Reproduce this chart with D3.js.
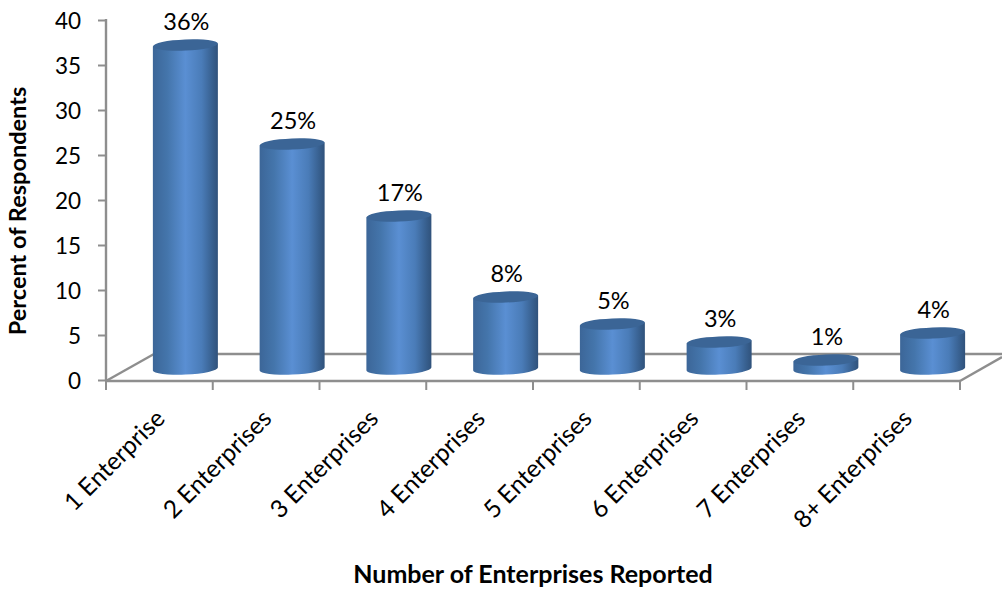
<!DOCTYPE html>
<html>
<head>
<meta charset="utf-8">
<script src="https://cdn.jsdelivr.net/npm/d3@7/dist/d3.min.js"></script>
<style>
  html, body { margin: 0; padding: 0; background: #fff; }
  svg { display: block; }
  text { font-family: Lato, "Open Sans", sans-serif; fill: #000; }
</style>
</head>
<body>
<svg id="chart" width="1002" height="591"></svg>
<script>
const categories = ["1 Enterprise", "2 Enterprises", "3 Enterprises", "4 Enterprises",
                    "5 Enterprises", "6 Enterprises", "7 Enterprises", "8+ Enterprises"];
const percentValues = [36, 25, 17, 8, 5, 3, 1, 4];
const valueTicks = [0, 5, 10, 15, 20, 25, 30, 35, 40];

const svg = d3.select("#chart");
const width = 1002, height = 591;

// Front plane of the pseudo-3D box, and the shift to its back plane
const plot = { left: 106, right: 960, top: 20, bottom: 380 };
const depth = { x: 48, y: -27 };
const barShift = { x: 26, y: -11 };

const x = d3.scaleBand().domain(categories).range([plot.left, plot.right]);
const y = d3.scaleLinear().domain([0, 40]).range([plot.bottom, plot.top]);

const axisColor = "#8e8e8e";
const rx = 32.5, ry = 5.6, tilt = -2.5;

// Horizontal shading that gives each bar its cylindrical look
const defs = svg.append("defs");
const grad = defs.append("linearGradient").attr("id", "cyl")
  .attr("x1", "0%").attr("x2", "100%").attr("y1", "0%").attr("y2", "0%");
[[0, "#3c6698"], [0.22, "#4475ab"], [0.5, "#5a8fd3"], [0.75, "#4a7cb8"], [0.92, "#375f8e"], [1, "#30527b"]]
  .forEach(([o, c]) => grad.append("stop").attr("offset", o).attr("stop-color", c));

// Floor of the box
const floor = svg.append("g").attr("fill", "none").attr("stroke", axisColor).attr("stroke-width", 2.4);
floor.append("line")
  .attr("x1", plot.left).attr("y1", plot.bottom + 1)
  .attr("x2", plot.left + depth.x).attr("y2", plot.bottom + 1 + depth.y);
floor.append("line")
  .attr("x1", plot.left + depth.x).attr("y1", plot.bottom + 1 + depth.y)
  .attr("x2", width).attr("y2", plot.bottom + 1 + depth.y);
floor.append("line")
  .attr("x1", plot.left).attr("y1", plot.bottom + 1)
  .attr("x2", plot.right).attr("y2", plot.bottom + 1);
floor.append("line")
  .attr("x1", plot.right).attr("y1", plot.bottom + 1)
  .attr("x2", plot.right + 42).attr("y2", plot.bottom + 1 - 24);

// Category ticks below the front edge
const xTicks = categories.map(c => x(c)).concat(plot.right);
svg.append("g").selectAll("line").data(xTicks).join("line")
  .attr("x1", d => d).attr("x2", d => d)
  .attr("y1", plot.bottom + 1).attr("y2", plot.bottom + 10)
  .attr("stroke", axisColor).attr("stroke-width", 2);

// Value axis
const yAxis = svg.append("g")
  .attr("transform", `translate(${plot.left},0)`)
  .call(d3.axisLeft(y).tickValues(valueTicks).tickSize(8).tickPadding(17));
yAxis.selectAll("path").attr("d", `M0,${plot.top - 1}V${plot.bottom + 1}`)
  .attr("stroke", axisColor).attr("stroke-width", 2.4);
yAxis.selectAll("line").attr("stroke", axisColor).attr("stroke-width", 2);
yAxis.selectAll("text").style("font-size", "22.5px").attr("fill", "#000").attr("y", 1.5);

// Cylinders: side wall with a rounded foot, then the darker top cap
const bars = svg.append("g").selectAll("g").data(percentValues).join("g")
  .attr("transform", (d, i) => `translate(${x(categories[i]) + x.bandwidth() / 2 + barShift.x},0)`);

const baseY = y(0) + barShift.y;
const slope = Math.tan(tilt * Math.PI / 180) * rx;
bars.append("path")
  .attr("fill", "url(#cyl)")
  .attr("d", d => {
    const capY = y(d) + barShift.y;
    return `M${-rx},${capY - slope}L${-rx},${baseY - slope}` +
           `A${rx},${ry} ${tilt} 0 0 ${rx},${baseY + slope}` +
           `L${rx},${capY + slope}Z`;
  });
bars.append("ellipse")
  .attr("cx", 0).attr("cy", d => y(d) + barShift.y)
  .attr("rx", rx).attr("ry", ry)
  .attr("transform", d => `rotate(${tilt} 0 ${y(d) + barShift.y})`)
  .attr("fill", "#3b6596");

// Value labels above each cap
bars.append("text")
  .attr("x", 1).attr("y", d => y(d) + barShift.y - 15)
  .attr("text-anchor", "middle")
  .style("font-size", "23.5px")
  .text(d => d + "%");

// Slanted category labels
svg.append("g").selectAll("text").data(categories).join("text")
  .attr("text-anchor", "end")
  .attr("transform", c => `translate(${x(c) + x.bandwidth() / 2 + 7},${plot.bottom + 40}) rotate(-45)`)
  .style("font-size", "24.5px")
  .text(c => c);

// Axis titles
svg.append("text")
  .attr("x", 533).attr("y", 583)
  .attr("text-anchor", "middle")
  .style("font-size", "25px").style("font-weight", "700")
  .text("Number of Enterprises Reported");
svg.append("text")
  .attr("transform", "translate(26,211) rotate(-90)")
  .attr("text-anchor", "middle")
  .style("font-size", "23.5px").style("font-weight", "700")
  .text("Percent of Respondents");
</script>
</body>
</html>
